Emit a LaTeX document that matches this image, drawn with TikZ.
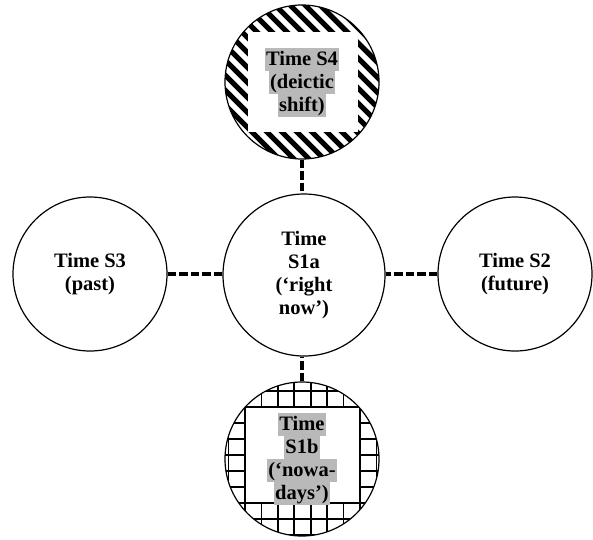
\documentclass[tikz,border=0pt]{standalone}
\usepackage{fontspec}
\setmainfont{Liberation Serif}
\definecolor{hlgray}{RGB}{185,185,185}
\newcommand\hlbox[1]{{\setlength\fboxsep{0pt}\colorbox{hlgray}{\rule[-5.5pt]{0pt}{23pt}\kern1.5pt#1\kern1.5pt}}}
\begin{document}
\begin{tikzpicture}[x=1pt,y=-1pt,
  state/.style={circle, draw=black, line width=1.2pt, inner sep=0pt,
    minimum size=154pt, align=center, font=\bfseries\fontsize{20.5}{23}\selectfont},
  link/.style={line width=3.8pt, dash pattern=on 8.5pt off 3pt}]
\useasboundingbox (0,0) rectangle (593,539);
% pattern of the top circle
\begin{scope}
  \clip (302,82) circle (77pt);
  \foreach \k in {0,...,34}{
    \draw[line width=5.3pt] (\k*15-20,-20) -- ++(260,260);
  }
\end{scope}
\fill[white] (248,32) rectangle (358,132);
% pattern of the bottom circle
\begin{scope}
  \clip (302,459) circle (77pt);
  \foreach \k [evaluate=\k as \gx using 245+\k*16.43] in {-2,...,9}{
    \draw[line width=1.8pt] (\gx,370) -- (\gx,550);
  }
  \foreach \k [evaluate=\k as \gy using 407+\k*16] in {-2,...,8}{
    \draw[line width=1.8pt] (210,\gy) -- (400,\gy);
  }
  \fill[white] (245.9,407.9) rectangle (359.1,502.1);
\end{scope}
% circles
\node[state, fill=white] (past) at (90,274) {Time S3\\(past)};
\node[state, fill=white, minimum size=162pt] (now) at (304,275) {Time\\S1a\\(‘right\\now’)};
\node[state, fill=white] (future) at (515,274) {Time S2\\(future)};
\node[state] (shift) at (302,82) {\hlbox{Time S4}\\\hlbox{(deictic}\\\hlbox{shift)}};
\node[state] (days) at (302,459) {\hlbox{Time}\\\hlbox{S1b}\\\hlbox{(‘nowa-}\\\hlbox{days’)}};
% connectors
\draw[link] (past) -- (past -| now.west);
\draw[link] (future) -- (future -| now.east);
\draw[link] (shift) -- (shift |- now.north);
\draw[link] (days) -- (days |- now.south);
\end{tikzpicture}
\end{document}
